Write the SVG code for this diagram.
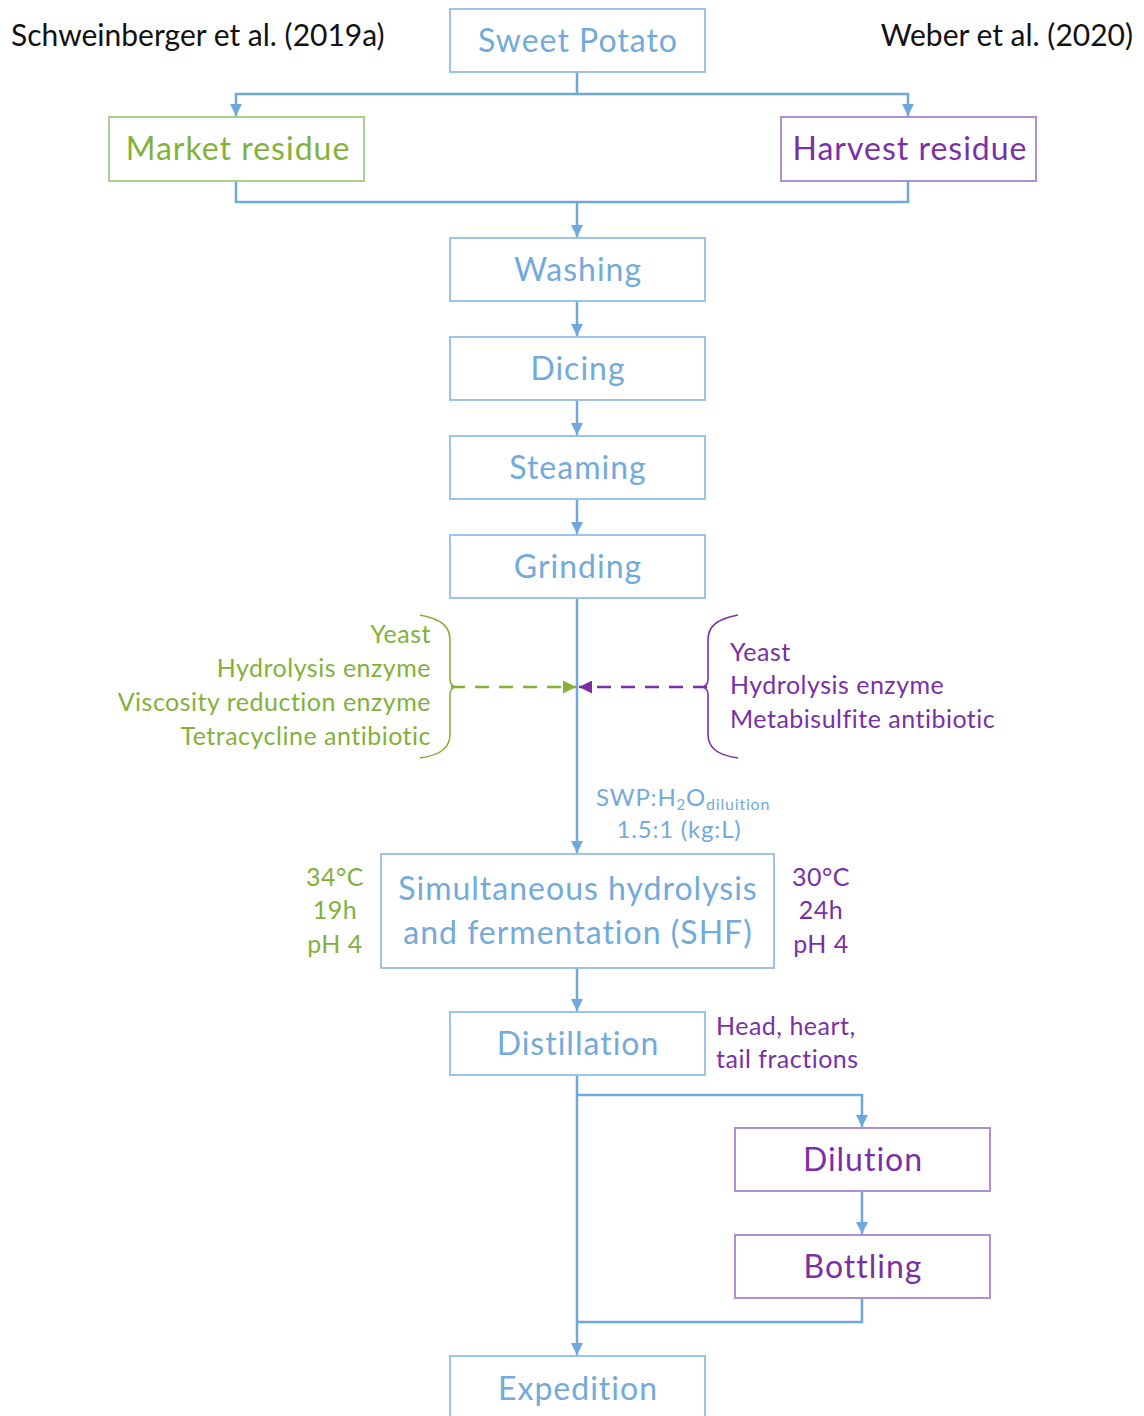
<svg xmlns="http://www.w3.org/2000/svg" width="1144" height="1416" viewBox="0 0 1144 1416">
  <defs>
    <style>
      text { font-family: Lato, "Open Sans", "Liberation Sans", sans-serif; }
      .box { fill: #ffffff; stroke-width: 2; }
      .bb { stroke: #9dc3e6; }
      .bg { stroke: #a9d18e; }
      .bp { stroke: #b08fd0; }
      .tb { fill: #72aadc; }
      .tg { fill: #82b13a; }
      .tp { fill: #7a30a5; }
      .node { font-size: 32px; letter-spacing: 1px; text-anchor: middle; }
      .note { font-size: 25px; letter-spacing: 0.5px; }
      .ref { font-size: 30px; fill: #111111; }
      .wire { fill: none; stroke: #6fa8dc; stroke-width: 2.5; }
      .dash { fill: none; stroke-width: 2.5; stroke-dasharray: 14 10; }
      .brace { fill: none; stroke-width: 1.6; }
    </style>
    <marker id="ab" viewBox="0 0 10 10" refX="10" refY="5" markerWidth="12" markerHeight="12" markerUnits="userSpaceOnUse" orient="auto">
      <path d="M0,0 L10,5 L0,10 Z" fill="#6fa8dc"/>
    </marker>
    <marker id="ag" viewBox="0 0 10 10" refX="10" refY="5" markerWidth="13" markerHeight="13" markerUnits="userSpaceOnUse" orient="auto">
      <path d="M0,0 L10,5 L0,10 Z" fill="#82b13a"/>
    </marker>
    <marker id="ap" viewBox="0 0 10 10" refX="10" refY="5" markerWidth="13" markerHeight="13" markerUnits="userSpaceOnUse" orient="auto">
      <path d="M0,0 L10,5 L0,10 Z" fill="#7a30a5"/>
    </marker>
  </defs>

  <rect width="1144" height="1416" fill="#ffffff"/>

  <!-- source references -->
  <text class="ref" x="11" y="46">Schweinberger et al. (2019a)</text>
  <text class="ref" x="1133" y="46" text-anchor="end">Weber et al. (2020)</text>

  <!-- connectors -->
  <g id="connectors">
    <path class="wire" d="M577,72 V94 H236 V116" marker-end="url(#ab)"/>
    <path class="wire" d="M577,94 H908 V116" marker-end="url(#ab)"/>
    <path class="wire" d="M236,181 V202 H908 V181"/>
    <path class="wire" d="M577,202 V237" marker-end="url(#ab)"/>
    <path class="wire" d="M577,301 V336" marker-end="url(#ab)"/>
    <path class="wire" d="M577,400 V435" marker-end="url(#ab)"/>
    <path class="wire" d="M577,499 V534" marker-end="url(#ab)"/>
    <path class="wire" d="M577,598 V853" marker-end="url(#ab)"/>
    <path class="wire" d="M577,968 V1011" marker-end="url(#ab)"/>
    <path class="wire" d="M577,1075 V1355" marker-end="url(#ab)"/>
    <path class="wire" d="M577,1095 H862 V1127" marker-end="url(#ab)"/>
    <path class="wire" d="M862,1191 V1234" marker-end="url(#ab)"/>
    <path class="wire" d="M862,1298 V1322 H577"/>
    <path class="dash" stroke="#82b13a" d="M451,687 H576" marker-end="url(#ag)"/>
    <path class="dash" stroke="#7a30a5" d="M707,687 H579" marker-end="url(#ap)"/>
  </g>

  <!-- nodes -->
  <g id="sweet-potato">
    <rect class="box bb" x="450" y="9" width="255" height="63"/>
    <text class="node tb" x="578" y="52">Sweet Potato</text>
  </g>
  <g id="market-residue">
    <rect class="box bg" x="109" y="117" width="255" height="64"/>
    <text class="node tg" x="238" y="160">Market residue</text>
  </g>
  <g id="harvest-residue">
    <rect class="box bp" x="781" y="117" width="255" height="64"/>
    <text class="node tp" x="910" y="160">Harvest residue</text>
  </g>
  <g id="washing">
    <rect class="box bb" x="450" y="238" width="255" height="63"/>
    <text class="node tb" x="578" y="281">Washing</text>
  </g>
  <g id="dicing">
    <rect class="box bb" x="450" y="337" width="255" height="63"/>
    <text class="node tb" x="578" y="380">Dicing</text>
  </g>
  <g id="steaming">
    <rect class="box bb" x="450" y="436" width="255" height="63"/>
    <text class="node tb" x="578" y="479">Steaming</text>
  </g>
  <g id="grinding">
    <rect class="box bb" x="450" y="535" width="255" height="63"/>
    <text class="node tb" x="578" y="578">Grinding</text>
  </g>

  <!-- additives, Schweinberger et al. -->
  <g id="additives-market">
    <path class="brace" stroke="#82b13a" d="M420,615 C442,619 450,627 450,640 L450,679 Q450,687 457,687 Q450,687 450,695 L450,734 C450,747 442,755 420,758"/>
    <g class="note tg" text-anchor="end">
      <text x="431" y="643">Yeast</text>
      <text x="431" y="677">Hydrolysis enzyme</text>
      <text x="431" y="711">Viscosity reduction enzyme</text>
      <text x="431" y="745">Tetracycline antibiotic</text>
    </g>
  </g>

  <!-- additives, Weber et al. -->
  <g id="additives-harvest">
    <path class="brace" stroke="#7a30a5" d="M738,615 C716,619 708,627 708,640 L708,679 Q708,687 701,687 Q708,687 708,695 L708,734 C708,747 716,755 738,758"/>
    <g class="note tp">
      <text x="730" y="661">Yeast</text>
      <text x="730" y="694">Hydrolysis enzyme</text>
      <text x="730" y="728">Metabisulfite antibiotic</text>
    </g>
  </g>

  <!-- dilution ratio -->
  <g id="ratio" class="tb" font-size="24" letter-spacing="0.8">
    <text x="596" y="806">SWP:H<tspan font-size="15" dy="4">2</tspan><tspan dy="-4">O</tspan><tspan font-size="16" dy="4">diluition</tspan></text>
    <text x="679" y="838" text-anchor="middle">1.5:1 (kg:L)</text>
  </g>

  <g id="shf">
    <rect class="box bb" x="381" y="854" width="393" height="114"/>
    <text class="node tb" x="578" y="900">Simultaneous hydrolysis</text>
    <text class="node tb" x="578" y="944">and fermentation (SHF)</text>
  </g>
  <g id="shf-conditions-market" class="note tg" text-anchor="middle">
    <text x="335" y="886">34°C</text>
    <text x="335" y="919">19h</text>
    <text x="335" y="953">pH 4</text>
  </g>
  <g id="shf-conditions-harvest" class="note tp" text-anchor="middle">
    <text x="821" y="886">30°C</text>
    <text x="821" y="919">24h</text>
    <text x="821" y="953">pH 4</text>
  </g>

  <g id="distillation">
    <rect class="box bb" x="450" y="1012" width="255" height="63"/>
    <text class="node tb" x="578" y="1055">Distillation</text>
  </g>
  <g id="fractions" class="note tp">
    <text x="716" y="1035">Head, heart,</text>
    <text x="716" y="1068">tail fractions</text>
  </g>
  <g id="dilution">
    <rect class="box bp" x="735" y="1128" width="255" height="63"/>
    <text class="node tp" x="863" y="1171">Dilution</text>
  </g>
  <g id="bottling">
    <rect class="box bp" x="735" y="1235" width="255" height="63"/>
    <text class="node tp" x="863" y="1278">Bottling</text>
  </g>
  <g id="expedition">
    <rect class="box bb" x="450" y="1356" width="255" height="70"/>
    <text class="node tb" x="578" y="1400">Expedition</text>
  </g>
</svg>
